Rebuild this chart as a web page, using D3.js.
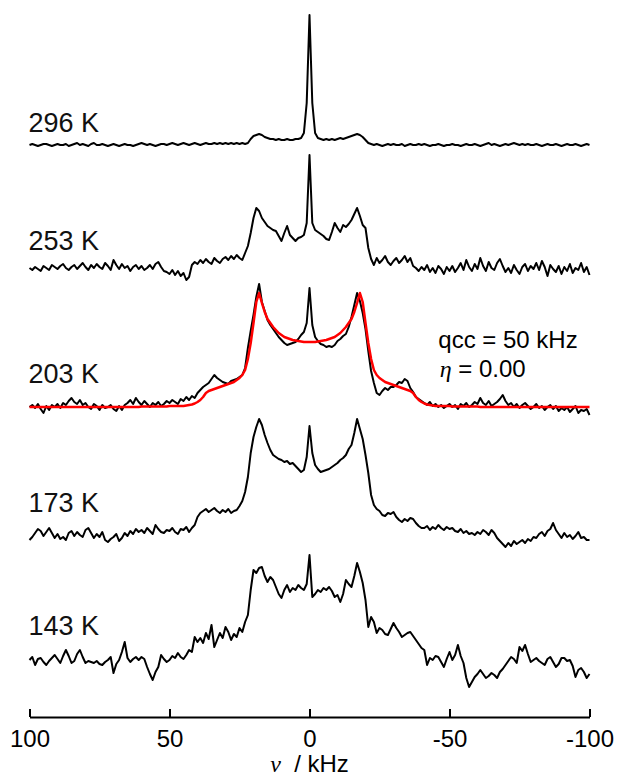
<!DOCTYPE html>
<html>
<head>
<meta charset="utf-8">
<script src="https://cdn.jsdelivr.net/npm/d3@7"></script>
<style>
  body { margin: 0; background: #fff; }
  text { font-family: "Liberation Sans", Arial, sans-serif; }
</style>
</head>
<body>
<div id="wrapper"></div>
<script>
// frequency grid, kHz (100 ... -100, 1 kHz step)
const freqs = d3.range(100, -101, -1)

const temperatures = ["296 K", "253 K", "203 K", "173 K", "143 K"]
const tickValues = [100, 50, 0, -50, -100]

// intensities, one value per kHz from +100 down to -100
const t296 = [
  0,1,0,-1,0,1,1,0,-1,0,
  1,0,0,1,-1,0,1,2,0,1,
  0,-1,1,2,0,0,1,0,-1,0,
  1,0,-1,0,1,0,0,-1,0,1,
  2,1,0,1,0,-1,0,1,1,0,
  1,2,1,0,1,2,1,0,1,2,
  1,0,1,2,1,1,2,1,2,1,
  2,1,2,1,2,1,2,1,2,6,
  9,10,11,10,8,7,6,6,5,6,
  5,5,6,5,5,6,6,7,12,42,
  130,
  42,12,7,6,5,6,5,6,5,6,
  7,6,7,8,9,10,11,10,8,5,
  2,1,0,1,0,-1,0,1,0,1,
  0,0,1,-1,0,1,0,0,1,0,
  1,0,-1,0,0,1,0,-1,0,0,
  1,0,0,-1,0,1,0,0,1,0,
  -1,0,1,2,0,1,0,-1,0,1,
  0,1,2,1,0,1,0,1,0,0,
  1,0,-1,0,1,0,0,1,0,-1,
  0,1,0,0,1,0,-1,0,1,0
]

const t253 = [
  0,-2,1,-1,-3,2,0,-2,3,1,
  -1,2,4,0,-2,1,3,-1,2,5,
  1,-2,3,0,4,1,-1,5,2,-2,
  8,3,-1,4,0,2,-3,1,3,-1,
  2,-2,0,3,-1,4,6,1,-3,-4,
  -6,-2,-7,-3,-8,-5,-12,-9,3,6,
  4,8,5,9,6,4,10,7,5,9,
  11,8,12,9,13,10,8,15,22,35,
  50,60,57,50,46,42,40,38,37,32,
  27,35,42,33,30,27,30,31,33,45,
  113,
  45,38,36,34,32,29,28,36,45,40,
  36,43,41,44,48,54,60,52,43,40,
  20,9,3,10,5,8,12,6,3,7,
  10,5,8,12,6,10,2,0,-3,1,
  -2,3,-4,0,-5,2,-1,-6,1,-3,
  2,-4,0,5,-2,8,1,-3,4,-1,
  10,2,-3,6,0,-2,5,9,2,-4,
  0,-5,3,-2,-6,1,4,-3,2,-1,
  5,-2,7,1,-8,3,-1,-4,2,-6,
  1,-3,4,-5,0,-2,5,-4,1,-7
]

const t203 = [
  0,2,-1,3,-2,-6,1,-3,2,0,
  3,-1,4,2,6,9,5,3,7,2,
  4,0,-2,3,1,-3,2,-1,0,2,
  -2,-4,1,-3,2,4,7,3,9,5,
  2,6,3,0,4,2,5,1,3,6,
  4,7,5,3,8,6,10,7,11,9,
  14,17,20,22,24,28,32,29,27,25,
  24,23,26,27,28,30,32,39,59,76,
  92,110,123,105,96,87,82,78,74,70,
  67,64,62,63,64,65,68,72,75,84,
  119,
  82,70,66,63,62,60,61,60,62,66,
  68,71,73,80,90,102,114,106,94,78,
  56,36,24,14,12,16,19,17,20,20,
  22,25,24,28,26,19,15,10,8,6,
  4,2,5,1,3,0,2,-1,1,3,
  0,2,-2,3,1,4,0,2,5,3,
  9,4,2,6,1,3,5,8,12,6,
  2,4,0,3,-1,2,4,1,-2,0,
  3,-1,1,-3,0,2,-2,1,-4,-1,
  -3,0,-5,-2,1,-6,-3,-4,-2,-8
]

// simulated powder pattern, qcc = 50 kHz, eta = 0
const fit203 = [
  0,0,0,0,0,0,0,0,0,0,
  0,0,0,0,0,0,0,0,0,0,
  0,0,0,0,0,0,0,0,0,0,
  0,0,0,0,0,0,0,0,0,0,
  0.5,0.5,0.5,0.5,0.5,0.5,0.5,0.5,0.5,0.5,
  1,1,1,1,1,1,1.5,2,2.5,3.5,
  5,7,10,14,16,17,18,19,20,21,
  22,23,24,25,27,29,32,37,48,64,
  84,105,114,104,95,88,84,80,77,74,
  72,70,69,68,67,66.5,66,65.5,65,65,
  65,
  65,65,65.5,66,66.5,67,68,69,70,72,
  74,77,80,84,88,95,104,114,105,84,
  64,48,37,32,29,27,25,24,23,22,
  21,20,19,18,17,16,14,10,7,5,
  3.5,2.5,2,1.5,1,1,1,1,1,1,
  0.5,0.5,0.5,0.5,0.5,0.5,0.5,0.5,0.5,0.5,
  0,0,0,0,0,0,0,0,0,0,
  0,0,0,0,0,0,0,0,0,0,
  0,0,0,0,0,0,0,0,0,0,
  0,0,0,0,0,0,0,0,0,0
]

const t173 = [
  -5,-2,2,6,4,-1,3,7,2,-3,
  1,-4,-2,-5,2,4,-1,3,0,-2,
  5,7,2,-3,1,-2,3,-5,-7,-4,
  -2,1,-6,-3,2,-1,4,1,6,3,
  5,2,7,4,1,10,6,3,2,5,
  4,7,3,1,6,5,8,3,7,10,
  18,22,24,26,23,25,27,24,22,25,
  23,26,22,24,25,29,34,43,58,82,
  98,108,116,110,100,92,85,80,78,76,
  75,73,74,71,72,69,66,63,65,78,
  109,
  82,70,66,63,64,65,66,68,70,72,
  75,77,80,86,90,102,116,106,96,80,
  62,40,30,26,24,20,19,22,21,23,
  18,15,13,16,14,17,16,12,9,7,
  7,9,5,8,6,10,7,5,8,6,
  7,4,3,6,2,4,1,2,0,3,
  1,5,3,0,5,2,-3,-6,-9,-12,
  -8,-11,-6,-9,-7,-5,-8,-4,-6,-2,
  -3,1,3,-1,4,6,12,5,1,-3,
  2,-2,0,-4,-1,3,-3,-2,-5,-5
]

const t143 = [
  0,3,-5,1,2,-2,-5,-1,2,5,
  1,-3,4,10,4,-3,-1,6,10,3,
  -3,-1,-2,-3,-1,-4,-5,-2,0,3,
  -13,-4,0,8,18,2,-2,1,3,0,
  3,1,-7,-14,-20,-12,-7,5,1,-2,
  0,4,2,7,3,1,5,10,8,23,
  18,22,17,27,21,35,13,20,27,22,
  33,28,20,26,23,32,28,38,45,70,
  90,87,92,93,84,78,83,80,73,66,
  62,70,75,68,72,70,75,72,70,76,
  105,
  63,66,70,68,72,70,73,69,63,65,
  58,66,80,76,73,84,97,88,77,60,
  33,43,38,27,32,30,26,25,31,37,
  32,28,23,25,27,28,24,20,16,12,
  10,-5,2,0,4,3,-2,-7,1,8,
  0,5,15,4,-3,-18,-27,-22,-17,-14,
  -10,-14,-18,-16,-13,-15,-18,-12,-9,-5,
  -1,3,1,-3,13,9,15,6,-2,0,
  2,-1,-3,-5,1,3,-2,-7,-4,2,
  2,-1,0,-6,-17,-10,-8,-12,-18,-14
]

const spectra = [t296, t253, t203, t173, t143]

async function drawChart() {
  // 1. Accessors
  const xAccessor = d => d.freq
  const yAccessor = d => d.value

  // 2. Chart dimensions
  let dimensions = {
    width: 619,
    height: 782,
    margin: {
      top: 0,
      right: 29.5,
      bottom: 65,
      left: 29.5
    }
  }
  dimensions.boundedWidth =
    dimensions.width
    - dimensions.margin.left
    - dimensions.margin.right
  dimensions.boundedHeight =
    dimensions.height
    - dimensions.margin.top
    - dimensions.margin.bottom

  // stacking offsets of each spectrum above the axis
  const offsets = [572, 449, 310, 182, 57]
  const labelOffsets = [585, 467, 334, 205, 82]

  // 3. Draw canvas
  const wrapper = d3.select("#wrapper")
    .append("svg")
      .attr("width", dimensions.width)
      .attr("height", dimensions.height)

  const bounds = wrapper.append("g")
    .style("transform", `translate(${
      dimensions.margin.left
    }px, ${
      dimensions.margin.top
    }px)`)

  // 4. Scales
  const xScale = d3.scaleLinear()
    .domain([100, -100])
    .range([0, dimensions.boundedWidth])

  const yScale = d3.scaleLinear()
    .domain([0, dimensions.boundedHeight])
    .range([dimensions.boundedHeight, 0])

  const lineGenerator = d3.line()
    .x(d => xScale(xAccessor(d)))
    .y(d => yScale(yAccessor(d)))

  // 5. Draw data
  spectra.forEach((values, i) => {
    const data = values.map((v, j) => ({ freq: freqs[j], value: v + offsets[i] }))
    bounds.append("path")
        .attr("d", lineGenerator(data))
        .attr("fill", "none")
        .attr("stroke", "black")
        .attr("stroke-width", 2)
        .attr("stroke-linejoin", "round")
  })

  const fitData = fit203.map((v, j) => ({ freq: freqs[j], value: v + offsets[2] }))
  bounds.append("path")
      .attr("d", lineGenerator(fitData))
      .attr("fill", "none")
      .attr("stroke", "#ff0000")
      .attr("stroke-width", 2.5)
      .attr("stroke-linejoin", "round")

  // 6. Labels
  bounds.selectAll(".temp")
    .data(temperatures)
    .join("text")
      .attr("class", "temp")
      .attr("x", -1)
      .attr("y", (d, i) => yScale(labelOffsets[i]))
      .text(d => d)
      .style("font-size", "27px")
      .attr("fill", "#111")

  const fitLabel = bounds.append("text")
      .attr("x", xScale(-46))
      .attr("y", yScale(369))
      .style("font-size", "24px")
      .text("qcc = 50 kHz")

  const etaLabel = bounds.append("text")
      .attr("x", xScale(-46.5))
      .attr("y", yScale(340))
      .style("font-size", "24px")
  etaLabel.append("tspan")
      .style("font-family", "'Liberation Serif', serif")
      .style("font-style", "italic")
      .text("η")
  etaLabel.append("tspan")
      .text(" = 0.00")

  // 7. Axis
  const xAxisGenerator = d3.axisBottom()
    .scale(xScale)
    .tickValues(tickValues)
    .tickFormat(d => String(d))
    .tickSizeInner(-8)
    .tickSizeOuter(0)
    .tickPadding(13)

  const xAxis = bounds.append("g")
    .call(xAxisGenerator)
      .style("transform", `translateY(${dimensions.boundedHeight}px)`)

  xAxis.select(".domain").attr("stroke-width", 2)
  xAxis.selectAll(".tick line").attr("stroke-width", 2)
  xAxis.selectAll(".tick text")
      .style("font-size", "24px")
      .style("font-family", "'Liberation Sans', Arial, sans-serif")
      .attr("fill", "black")

  const xAxisLabel = xAxis.append("text")
      .attr("x", xScale(0))
      .attr("y", 55)
      .attr("fill", "black")
      .style("font-size", "24px")
      .style("text-anchor", "middle")
  xAxisLabel.append("tspan")
      .style("font-family", "'Liberation Serif', serif")
      .style("font-style", "italic")
      .text("ν")
  xAxisLabel.append("tspan")
      .text("  / kHz")
      .attr("xml:space", "preserve")
}

drawChart()
</script>
</body>
</html>
